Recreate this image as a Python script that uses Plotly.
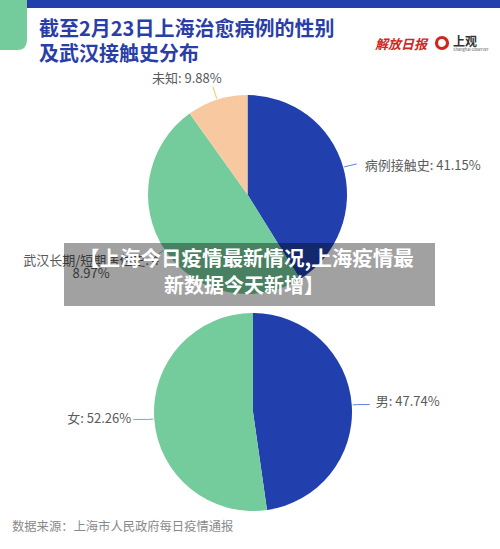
import math
import plotly.graph_objects as go

W, H = 500, 549

# ---------------- data ----------------
contact_categories = ["病例接触史", "武汉长期/短期居住史", "未知"]
contact_values = [41.15, 48.97, 9.88]
gender_categories = ["男", "女"]
gender_values = [47.74, 52.26]

title_lines = ["截至2月23日上海治愈病例的性别", "及武汉接触史分布"]
overlay_lines = ["【上海今日疫情最新情况,上海疫情最", "新数据今天新增】"]
source_text = "数据来源：上海市人民政府每日疫情通报"

# ---------------- styles ----------------
BLUE = "#2140ad"
GREEN = "#74cb9b"
PEACH = "#f8c9a1"
contact_colors = [BLUE, GREEN, PEACH]
gender_colors = [BLUE, GREEN]
contact_line_colors = ["#5d7fe6", "#74cb9b", "#f3c75a"]
gender_line_colors = ["#5d7fe6", "#3fc5c7"]
LABEL_COLOR = "#5a5a5a"
FONT = "Noto Sans CJK SC"

top_pie = dict(cx=247.5, cy=194.5, r=99.5)
bot_pie = dict(cx=253.0, cy=412.0, r=99.0)

# label layout per slice: radial length, horizontal length, text offset, text position
contact_label_layout = [
    dict(l1=12, l2=2, dx=8, dy=3, pos="middle right", wrap=None),
    dict(l1=8, l2=0, dx=-67, dy=8, pos="middle center", wrap=13),
    dict(l1=14, l2=0, dx=-26, dy=-7, pos="middle center", wrap=None),
]
gender_label_layout = [
    dict(l1=6, l2=12, dx=6, dy=-2, pos="middle right", wrap=None),
    dict(l1=6, l2=-15, dx=-2, dy=0, pos="middle left", wrap=None),
]


def domain(p):
    return dict(
        x=[(p["cx"] - p["r"]) / W, (p["cx"] + p["r"]) / W],
        y=[1 - (p["cy"] + p["r"]) / H, 1 - (p["cy"] - p["r"]) / H],
    )


def polar(p, ang, rad):
    a = math.radians(ang)
    return p["cx"] + rad * math.sin(a), p["cy"] - rad * math.cos(a)


fig = go.Figure()

# invisible pixel-space axes for labels / decorations
fig.update_layout(
    xaxis=dict(range=[0, W], visible=False, domain=[0, 1], fixedrange=True),
    yaxis=dict(range=[H, 0], visible=False, domain=[0, 1], fixedrange=True),
)


def add_pie(p, cats, vals, colors, line_colors, layouts):
    fig.add_trace(go.Pie(
        labels=cats, values=vals, sort=False, direction="clockwise", rotation=0,
        marker=dict(colors=colors, line=dict(width=0)),
        textinfo="none", hoverinfo="label+percent", showlegend=False,
        domain=domain(p),
    ))
    total = sum(vals)
    cum = 0.0
    for cat, v, lc, lay in zip(cats, vals, line_colors, layouts):
        mid = (cum + v / 2) / total * 360
        cum += v
        x0, y0 = polar(p, mid, p["r"] + 1)
        x1, y1 = polar(p, mid, p["r"] + lay["l1"])
        x2, y2 = x1 + lay["l2"], y1
        fig.add_trace(go.Scatter(
            x=[x0, x1, x2], y=[y0, y1, y2], mode="lines",
            line=dict(color=lc, width=1), hoverinfo="skip", showlegend=False,
        ))
        label = f"{cat}: {v:.2f}%"
        parts = [label] if lay["wrap"] is None else [label[:lay["wrap"]], label[lay["wrap"]:]]
        tx = x2 + lay["dx"]
        ty = y2 + lay["dy"]
        for i, part in enumerate(parts):
            fig.add_trace(go.Scatter(
                x=[tx], y=[ty + i * 13], mode="text", text=[part],
                textposition=lay["pos"], marker=dict(size=1),
                textfont=dict(family=FONT, size=13, color=LABEL_COLOR),
                hoverinfo="skip", showlegend=False, cliponaxis=False,
            ))


add_pie(top_pie, contact_categories, contact_values, contact_colors,
        contact_line_colors, contact_label_layout)
add_pie(bot_pie, gender_categories, gender_values, gender_colors,
        gender_line_colors, gender_label_layout)

shapes = [
    # top blue band
    dict(type="rect", xref="x", yref="y", x0=27, x1=W, y0=0, y1=8,
         fillcolor=BLUE, line=dict(width=0), layer="below"),
    # green rounded tab
    dict(type="path", xref="x", yref="y",
         path="M0,0 L27,0 L27,40 Q27,50 17,50 L0,50 Z",
         fillcolor=GREEN, line=dict(width=0), layer="below"),
    # logo ring
    dict(type="circle", xref="x", yref="y", x0=436.5, x1=447.5, y0=37.5, y1=48.5,
         fillcolor="white", line=dict(color="#d0271d", width=3.2)),
    # overlay banner
    dict(type="rect", xref="x", yref="y", x0=64, x1=435, y0=243, y1=306,
         fillcolor="rgba(0,0,0,0.37)", line=dict(width=0), layer="above"),
]

annotations = [
    dict(x=37, y=27.5, text=f"<b>{title_lines[0]}</b>"),
    dict(x=37, y=52, text=f"<b>{title_lines[1]}</b>"),
]
annotations = [dict(a, xref="x", yref="y", xanchor="left", yanchor="middle",
                    showarrow=False,
                    font=dict(family=FONT, size=20, color="#2a3ea8")) for a in annotations]

annotations += [
    dict(x=402, y=43, text="<b><i>解放日报</i></b>", xref="x", yref="y",
         xanchor="center", yanchor="middle", showarrow=False,
         font=dict(family=FONT, size=13, color="#d0271d")),
    dict(x=451, y=40.5, text="<b>上观</b>", xref="x", yref="y",
         xanchor="left", yanchor="middle", showarrow=False,
         font=dict(family=FONT, size=12, color="#333333")),
    dict(x=451, y=48.5, text="Shanghai Observer", xref="x", yref="y",
         xanchor="left", yanchor="middle", showarrow=False,
         font=dict(family=FONT, size=4, color="#555555")),
    dict(x=246, y=257, text=f"<b>{overlay_lines[0]}</b>", xref="x", yref="y",
         xanchor="center", yanchor="middle", showarrow=False,
         font=dict(family=FONT, size=20.5, color="white")),
    dict(x=244, y=284.5, text=f"<b>{overlay_lines[1]}</b>", xref="x", yref="y",
         xanchor="center", yanchor="middle", showarrow=False,
         font=dict(family=FONT, size=20, color="white")),
    dict(x=10, y=526, text=source_text, xref="x", yref="y",
         xanchor="left", yanchor="middle", showarrow=False,
         font=dict(family=FONT, size=12.3, color="#8a8a8a")),
]

fig.update_layout(
    width=W, height=H, autosize=False,
    margin=dict(l=0, r=0, t=0, b=0, pad=0),
    paper_bgcolor="white", plot_bgcolor="white",
    shapes=shapes, annotations=annotations, showlegend=False,
)

fig.write_html("out.html", config={"displayModeBar": False},
               post_script="document.body.style.margin='0';document.body.style.overflow='hidden';")
